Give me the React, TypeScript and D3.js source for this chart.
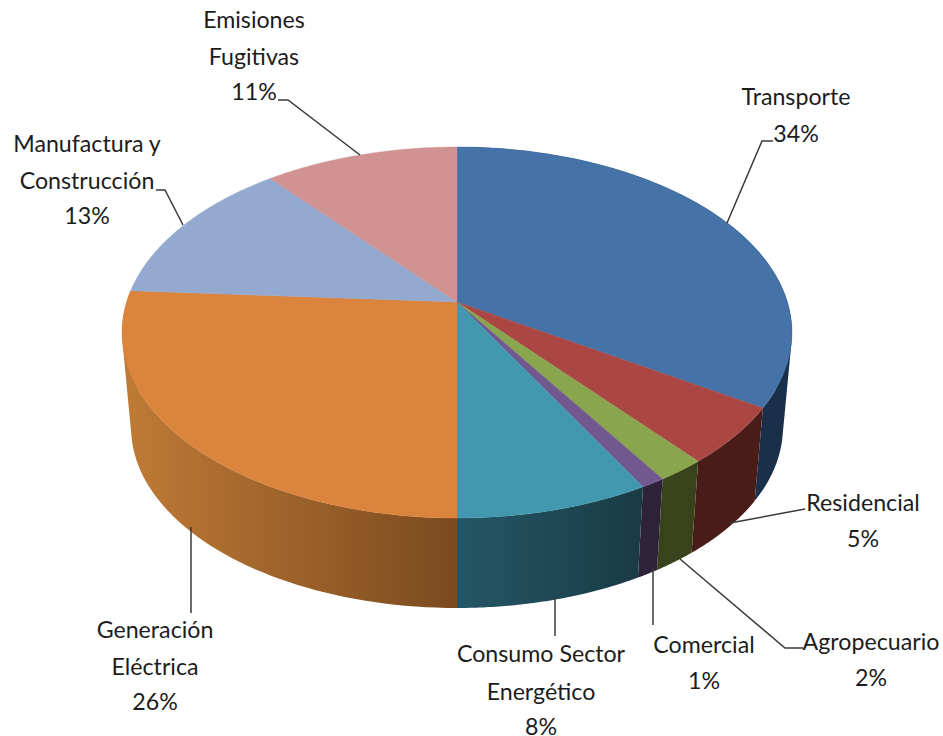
import React from "react";
import * as d3 from "d3";

// Emission shares by sector, in percent, clockwise from twelve o'clock
const sectors = [
  "Transporte",
  "Residencial",
  "Agropecuario",
  "Comercial",
  "Consumo Sector Energético",
  "Generación Eléctrica",
  "Manufactura y Construcción",
  "Emisiones Fugitivas",
];
const shares = [34, 5, 2, 1, 8, 26, 13, 11];

const topColors = ["#4572A7", "#AA4643", "#89A54E", "#71588F", "#4198AF", "#DB843D", "#93A9CF", "#D19392"];
// Side wall shading: colour at the left and right end of each wall
const wallColors: [string, string][] = [
  ["#1A2F4A", "#1A2F4A"],
  ["#4A1C18", "#4A1C18"],
  ["#38421B", "#38421B"],
  ["#2D2239", "#2D2239"],
  ["#245766", "#1A3A45"],
  ["#C07B35", "#7A4A20"],
  ["#93A9CF", "#93A9CF"],
  ["#D19392", "#D19392"],
];

const WIDTH = 943;
const HEIGHT = 736;

// Perspective projection of the unit disc onto the page
const CX = 457;
const HUB_Y = 302;
const TILT = 0.1644;
const SCALE_X = 330.4;
const SCALE_Y = 180.5;
const BASE_SCALE = 0.973;
const BASE_HUB_Y = 397.8;

function project(angle: number, r: number, base: boolean): [number, number] {
  const u = Math.sin(angle) * r;
  const v = Math.cos(angle) * r;
  const w = 1 + TILT * v;
  const s = base ? BASE_SCALE : 1;
  const hub = base ? BASE_HUB_Y : HUB_Y;
  return [CX + (s * SCALE_X * u) / w, hub - (s * SCALE_Y * v) / w];
}

type Label = { lines: string[]; x: number; baselines: number[]; leader: [number, number][] };

const labels: Label[] = [
  { lines: ["Transporte", "34%"], x: 796, baselines: [105, 142], leader: [[773, 141], [762, 141], [727, 223]] },
  { lines: ["Residencial", "5%"], x: 863, baselines: [511, 547], leader: [[805, 509], [730, 523]] },
  { lines: ["Agropecuario", "2%"], x: 871, baselines: [650, 686], leader: [[803, 648], [785, 648], [680, 559]] },
  { lines: ["Comercial", "1%"], x: 704, baselines: [653, 689], leader: [[653, 568], [653, 625]] },
  { lines: ["Consumo Sector", "Energético", "8%"], x: 541, baselines: [662, 700, 735], leader: [[555, 598], [555, 636]] },
  { lines: ["Generación", "Eléctrica", "26%"], x: 155, baselines: [638, 675, 710], leader: [[191, 527], [191, 613]] },
  { lines: ["Manufactura y", "Construcción", "13%"], x: 87, baselines: [152, 189, 224], leader: [[156, 190], [165, 190], [183, 225]] },
  { lines: ["Emisiones", "Fugitivas", "11%"], x: 254, baselines: [28, 65, 100], leader: [[278, 100], [288, 100], [360, 155]] },
];

export default function App() {
  const arcs = d3.pie<number>().sort(null)(shares);
  const line = d3.line();

  const sample = (a0: number, a1: number, base: boolean) =>
    d3.range(0, 61).map((i) => project(a0 + ((a1 - a0) * i) / 60, 1, base));

  const topPath = (a0: number, a1: number) =>
    line([[CX, HUB_Y], ...sample(a0, a1, false)]) + "Z";

  // A wall is a strip of small convex quads, so the straight silhouette
  // between the top rim and the base rim gets filled as well.
  const wallPath = (a0: number, a1: number) => {
    const top = sample(a0, a1, false);
    const base = sample(a0, a1, true);
    return d3
      .range(0, 60)
      .map((i) => {
        const hull = d3.polygonHull([top[i], top[i + 1], base[i + 1], base[i]]);
        return hull ? line(hull) + "Z" : "";
      })
      .join("");
  };

  return (
    <svg
      width={WIDTH}
      height={HEIGHT}
      viewBox={`0 0 ${WIDTH} ${HEIGHT}`}
      style={{ position: "absolute", left: 0, top: 0, background: "#fff" }}
    >
      <defs>
        {arcs.map((d, i) => {
          const xs = sample(d.startAngle, d.endAngle, false).map((p) => p[0]);
          return (
            <linearGradient
              key={i}
              id={`wall-${i}`}
              gradientUnits="userSpaceOnUse"
              x1={d3.min(xs)}
              x2={d3.max(xs)}
              y1={0}
              y2={0}
            >
              <stop offset="0" stopColor={wallColors[i][0]} />
              <stop offset="1" stopColor={wallColors[i][1]} />
            </linearGradient>
          );
        })}
      </defs>

      {/* Walls of the slices on the near half of the disc */}
      <g>
        {arcs.map((d, i) =>
          i < 6 ? <path key={i} d={wallPath(d.startAngle, d.endAngle)} fill={`url(#wall-${i})`} /> : null
        )}
      </g>

      {/* Top face */}
      <g>
        {arcs.map((d, i) => (
          <path
            key={i}
            d={topPath(d.startAngle, d.endAngle)}
            fill={topColors[i]}
            stroke={topColors[i]}
            strokeWidth={0.4}
          />
        ))}
      </g>

      {/* Leader lines */}
      <g fill="none" stroke="#3a3a3a" strokeWidth={1.5}>
        {labels.map((l, i) => (
          <path key={i} d={line(l.leader) ?? ""} />
        ))}
      </g>

      {/* Category and share labels */}
      <g fontFamily="Lato, sans-serif" fontSize={23.2} fill="#1c1c1c" textAnchor="middle">
        {labels.map((l, i) =>
          l.lines.map((t, j) => (
            <text key={`${i}-${j}`} x={l.x} y={l.baselines[j]}>
              {t}
            </text>
          ))
        )}
      </g>
    </svg>
  );
}
